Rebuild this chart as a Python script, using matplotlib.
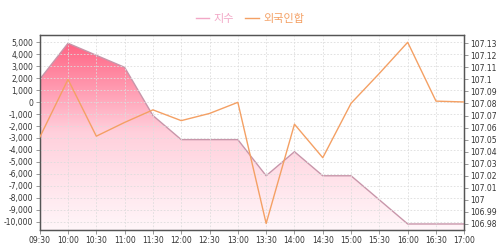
import numpy as np
import matplotlib
matplotlib.use("Agg")
import matplotlib.pyplot as plt
from matplotlib.colors import LinearSegmentedColormap
from matplotlib.lines import Line2D
from matplotlib.ticker import FuncFormatter, MultipleLocator

times = ["09:30", "10:00", "10:30", "11:00", "11:30", "12:00", "12:30", "13:00",
         "13:30", "14:00", "14:30", "15:00", "15:30", "16:00", "16:30", "17:00"]
index_vals = [107.10, 107.13, 107.12, 107.11, 107.07, 107.05, 107.05, 107.05,
              107.02, 107.04, 107.02, 107.02, 107.00, 106.98, 106.98, 106.98]
foreign_vals = [-2950, 1900, -2850, -1700, -650, -1550, -950, -20,
                -10150, -1850, -4650, -100, 2400, 5000, 80, 10]

PINK_LINE = "#c896aa"
PINK_LEGEND = "#f2a7c6"
ORANGE = "#f4a064"
TICK_COLOR = "#333333"
FRAME = "#555555"

plt.rcParams["font.family"] = ["DejaVu Sans", "Noto Sans CJK KR"]

fig = plt.figure(figsize=(5.0, 2.48), dpi=100)
ax = fig.add_axes([0.0794, 0.0726, 0.8492, 0.7851])
ax2 = ax.twinx()

x = np.arange(len(times))

# index on the right axis, with gradient fill underneath
ax2.set_ylim(106.975, 107.1366)
ax2.set_xlim(0, len(times) - 1)
cmap = LinearSegmentedColormap.from_list("pinkfade", ["#fff6f9", "#ffd0dc", "#ff5a7c"])
grad = np.linspace(0, 1, 256).reshape(-1, 1)
img = ax2.imshow(grad, cmap=cmap, origin="lower", aspect="auto",
                 extent=[0, len(times) - 1, 106.975, 107.1366], zorder=1)
poly = ax2.fill_between(x, index_vals, 106.975, color="none", lw=0)
clip = poly.get_paths()[0]
img.set_clip_path(clip, transform=ax2.transData)
ax2.plot(x, index_vals, color=PINK_LINE, lw=1.0, zorder=2)

# foreign net on the left axis, drawn above
ax.set_zorder(ax2.get_zorder() + 1)
ax.patch.set_visible(False)
ax.plot(x, foreign_vals, color=ORANGE, lw=1.0, zorder=3)
ax.set_xlim(0, len(times) - 1)
ax.set_ylim(-10694, 5585)

ax.set_xticks(x)
ax.set_xticklabels(times)
ax.yaxis.set_major_locator(MultipleLocator(1000))
ax.yaxis.set_major_formatter(FuncFormatter(lambda v, p: f"{int(round(v)):,}"))
ax2.yaxis.set_major_locator(MultipleLocator(0.01))
ax2.yaxis.set_major_formatter(FuncFormatter(lambda v, p: f"{round(v, 2):g}"))

ax.grid(True, color="#dddddd", linestyle=(0, (2, 2)), lw=0.6)

for a in (ax, ax2):
    a.tick_params(labelsize=5.5, colors=TICK_COLOR, length=3, width=0.6, pad=1.5)
    for s in a.spines.values():
        s.set_color(FRAME)
        s.set_linewidth(0.9)
    a.tick_params(axis="both", color="#888888")

handles = [Line2D([], [], color=PINK_LEGEND, lw=1.0),
           Line2D([], [], color=ORANGE, lw=1.0)]
leg = fig.legend(handles, ["지수", "외국인합"], loc="upper center",
                 bbox_to_anchor=(0.5, 0.985), ncol=2, frameon=False,
                 fontsize=8, handlelength=1.2, handletextpad=0.4, columnspacing=1.0)
for t, c in zip(leg.get_texts(), [PINK_LEGEND, ORANGE]):
    t.set_color(c)

fig.savefig("out.png", dpi=100)
